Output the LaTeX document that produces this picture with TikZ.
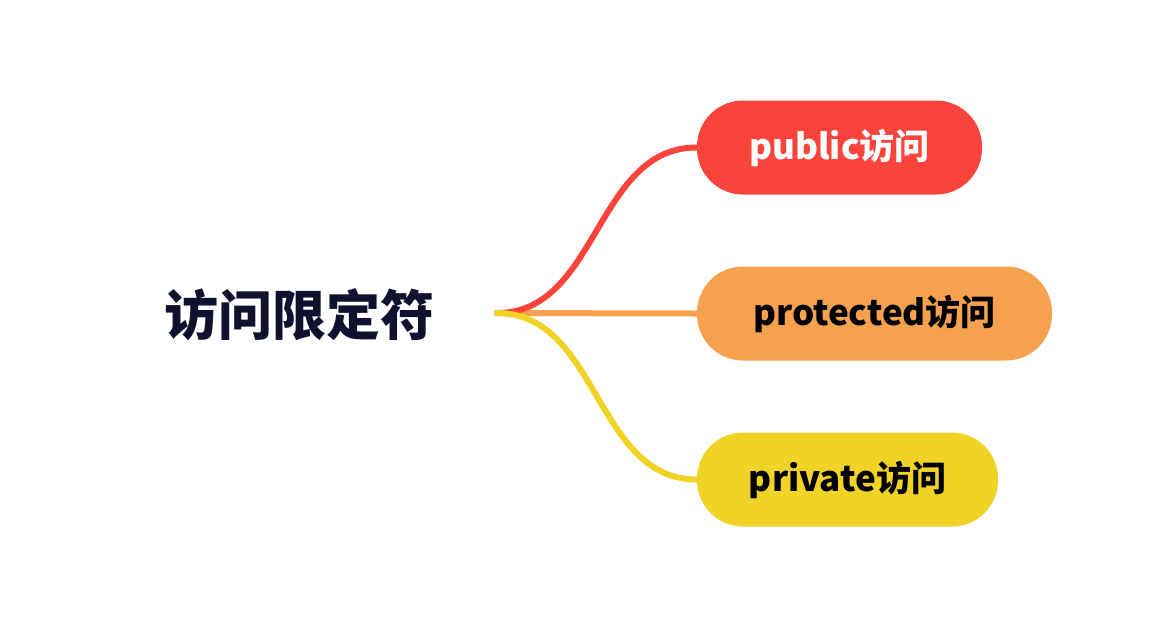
\documentclass[tikz,border=0pt]{standalone}
\usepackage{fontspec}
\setmainfont{Noto Sans CJK SC}
\usepackage{tikz}
\usetikzlibrary{positioning}
\definecolor{pubred}{HTML}{F9433B}
\definecolor{protorange}{HTML}{F5A14E}
\definecolor{privyellow}{HTML}{F0D325}
\definecolor{rootink}{HTML}{10112E}
\tikzstyle{root}=[font=\bfseries\fontsize{27}{30}\selectfont,text=rootink,inner sep=0pt]
\tikzstyle{branch}=[rounded corners=23pt,minimum height=47pt,inner sep=0pt,font=\bfseries\fontsize{17.5}{20}\selectfont]
\tikzstyle{link}=[line width=3pt,line cap=round]

\begin{document}
\begin{tikzpicture}[x=0.5pt,y=-0.5pt]
\useasboundingbox (0,0) rectangle (1154,628);
\node[root] (root) at (299,315) {访问限定符};
\coordinate (hub) at (497,313);

\node[branch,fill=pubred,text=white,minimum width=142.5pt] (pub) at (839.5,147.5) {public访问};
\node[branch,fill=protorange,text=black,minimum width=177.5pt] (prot) at (874.5,313.5) {protected访问};
\node[branch,fill=privyellow,text=black,minimum width=150.5pt] (priv) at (847.5,479.5) {private访问};

\draw[link,protorange] (hub) -- (prot.west);
\draw[link,pubred] (hub) to[out=0,in=180] (pub.west);
\draw[link,privyellow] (hub) to[out=0,in=180] (priv.west);
\end{tikzpicture}
\end{document}
